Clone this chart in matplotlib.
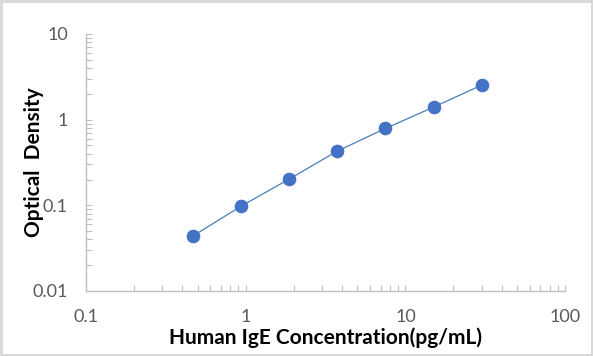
import matplotlib
matplotlib.use("Agg")
from matplotlib import pyplot as plt
from matplotlib.ticker import LogLocator, FixedLocator, NullFormatter

# standard curve: concentration (pg/mL) vs OD
conc = [0.469, 0.938, 1.875, 3.75, 7.5, 15, 30]
od = [0.044, 0.098, 0.203, 0.43, 0.79, 1.40, 2.53]

x_ticks = [0.1, 1, 10, 100]
x_labels = ["0.1", "1", "10", "100"]
y_ticks = [0.01, 0.1, 1, 10]
y_labels = ["0.01", "0.1", "1", "10"]

plt.rcParams['font.family'] = ['Lato', 'DejaVu Sans']

fig = plt.figure(figsize=(5.93, 3.56), dpi=100)
fig.patch.set_edgecolor('#d9d9d9')
fig.patch.set_linewidth(2.5)
ax = fig.add_axes([0.145, 0.1826, 0.808, 0.7219])

ax.plot(conc, od, color='#4a7ebb', lw=0.9, marker='o', ms=8.8,
        mfc='#4472c4', mec='#4472c4')

ax.set_xscale('log')
ax.set_yscale('log')
ax.set_xlim(0.1, 100)
ax.set_ylim(0.01, 10)

ax.xaxis.set_major_locator(FixedLocator(x_ticks))
ax.set_xticklabels(x_labels)
ax.yaxis.set_major_locator(FixedLocator(y_ticks))
ax.set_yticklabels(y_labels)
ax.xaxis.set_minor_locator(LogLocator(base=10, subs=range(2, 10), numticks=20))
ax.yaxis.set_minor_locator(LogLocator(base=10, subs=range(2, 10), numticks=20))
ax.xaxis.set_minor_formatter(NullFormatter())
ax.yaxis.set_minor_formatter(NullFormatter())

for s in ['top', 'right']:
    ax.spines[s].set_visible(False)
for s in ['left', 'bottom']:
    ax.spines[s].set_color('#bfbfbf')
    ax.spines[s].set_linewidth(1.0)

ax.tick_params(which='both', direction='in', color='#bfbfbf', width=0.8,
               length=4, labelcolor='#595959', labelsize=13)
ax.tick_params(axis='y', which='major', pad=13)
ax.tick_params(axis='x', which='major', pad=13)

ax.set_xlabel('Human IgE Concentration(pg/mL)', fontsize=15,
              fontweight='bold', labelpad=2)
ax.set_ylabel('Optical  Density', fontsize=15, fontweight='bold', labelpad=-8)

fig.savefig('out.png', dpi=100)
